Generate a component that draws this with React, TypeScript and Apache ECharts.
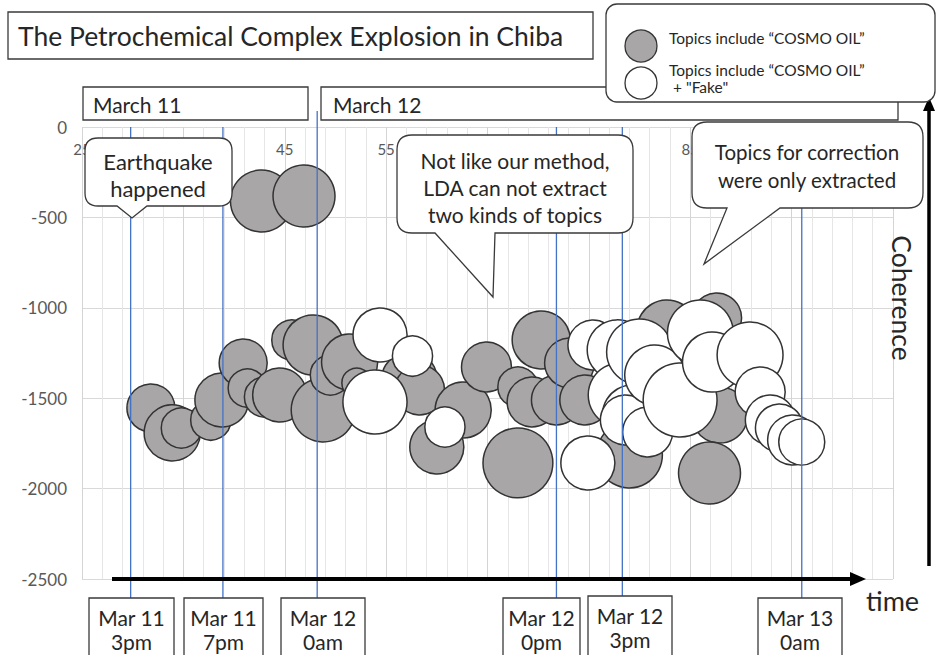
import React, { useEffect, useRef } from "react";
import * as echarts from "echarts";

// ---------- data ----------
// x tick labels that are not hidden by the callouts
const xTickLabels = [25, 45, 55, 85];
const yTickLabels = [0, -500, -1000, -1500, -2000, -2500];

// Topics include "COSMO OIL"
const grayX = [31.8, 33.9, 34.8, 37.7, 38.8, 40.9, 41.3, 43.0, 44.5, 45.7, 47.8, 48.8, 49.5, 51.4, 52.1, 57.3, 58.3, 60.0, 62.6, 64.9, 68.0, 70.3, 69.4, 71.8, 68.0, 73.1, 74.6, 79.0, 82.7, 87.6, 87.9, 86.9, 42.7, 46.9];
const grayY = [-1554, -1692, -1665, -1621, -1510, -1305, -1444, -1493, -1482, -1178, -1206, -1565, -1372, -1300, -1416, -1399, -1455, -1770, -1565, -1327, -1438, -1178, -1521, -1510, -1858, -1305, -1510, -1814, -1123, -1056, -1593, -1914, -409, -382];
const graySize = [0.6, 0.82, 0.42, 0.42, 0.76, 0.6, 0.38, 0.42, 0.76, 0.42, 0.94, 1.07, 0.42, 0.82, 0.23, 0.82, 0.65, 0.76, 0.82, 0.65, 0.42, 0.88, 0.65, 0.65, 1.27, 0.65, 0.65, 1.13, 0.94, 0.65, 0.82, 1.0, 1.0, 1.0];

// Topics include "COSMO OIL" + "Fake"
const whiteX = [54.4, 57.6, 53.9, 60.8, 74.9, 75.4, 77.8, 78.1, 79.3, 78.6, 80.0, 80.8, 81.5, 84.0, 86.0, 87.2, 90.9, 91.9, 92.9, 93.8, 95.1, 96.0];
const whiteY = [-1150, -1267, -1521, -1659, -1858, -1206, -1233, -1482, -1593, -1621, -1244, -1687, -1372, -1510, -1139, -1300, -1261, -1466, -1621, -1665, -1731, -1742];
const whiteSize = [0.76, 0.42, 1.07, 0.42, 0.76, 0.65, 0.94, 1.07, 0.94, 0.65, 1.13, 0.65, 0.94, 1.42, 1.13, 0.94, 1.13, 0.65, 0.65, 0.6, 0.65, 0.55];

// time markers (x position on the axis) and their labels
const markerX = [29.8, 38.9, 48.2, 71.8, 78.3, 96.0];
const markerDay = ["Mar 11", "Mar 11", "Mar 12", "Mar 12", "Mar 12", "Mar 13"];
const markerHour = ["3pm", "7pm", "0am", "0pm", "3pm", "0am"];

const seriesNames = ["Topics include \u201cCOSMO OIL\u201d", "Topics include \u201cCOSMO OIL\u201d"];

// ---------- helpers ----------
const FONT = "Lato, 'Open Sans', sans-serif";

function calloutPath(x: number, y: number, w: number, h: number, r: number, b1: number, tip: [number, number], b2: number) {
  return `M${x + r},${y} L${x + w - r},${y} Q${x + w},${y} ${x + w},${y + r} L${x + w},${y + h - r} Q${x + w},${y + h} ${x + w - r},${y + h} L${b2},${y + h} L${tip[0]},${tip[1]} L${b1},${y + h} L${x + r},${y + h} Q${x},${y + h} ${x},${y + h - r} L${x},${y + r} Q${x},${y} ${x + r},${y} Z`;
}

const callouts = [
  { name: "callout1", d: calloutPath(85, 138, 147, 68, 13, 117, [132, 218], 147) },
  { name: "callout2", d: calloutPath(397, 135, 236, 98, 15, 435, [493, 297], 495) },
  { name: "callout3", d: calloutPath(692, 122, 231, 86, 15, 727, [704, 264], 780) },
];
callouts.forEach((c) => {
  echarts.graphic.registerShape(c.name, echarts.graphic.extendPath(c.d, {}));
});

const bubbleDiameter = (s: number) => 62 * Math.sqrt(s);

function txt(text: string, x: number, y: number, size: number, align = "left", extra: any = {}) {
  return {
    type: "text",
    z: 110,
    x,
    y,
    ...extra,
    style: {
      text,
      fill: "#262626",
      fontSize: size,
      fontFamily: FONT,
      textAlign: align,
      textVerticalAlign: "middle",
    },
  };
}

function box(x: number, y: number, w: number, h: number, r = 0, z = 100) {
  return {
    type: "rect",
    z,
    shape: { x, y, width: w, height: h, r },
    style: { fill: "#fff", stroke: "#3a3a3a", lineWidth: 1.3 },
  };
}

export default function App() {
  const ref = useRef<HTMLDivElement>(null);

  useEffect(() => {
    if (!ref.current) return;
    const chart = echarts.init(ref.current, null, { renderer: "svg" });

    const major = "#d4d4d4";
    const minor = "#e6e6e6";
    const none = "rgba(0,0,0,0)";

    const option: any = {
      animation: false,
      backgroundColor: "#ffffff",
      grid: { left: 82, right: 44, top: 127, bottom: 76, containLabel: false },
      xAxis: {
        type: "value",
        position: "top",
        min: 25,
        max: 105,
        interval: 1,
        axisLine: { show: false },
        axisTick: { show: false },
        axisLabel: {
          inside: true,
          margin: 14,
          color: "#595959",
          fontSize: 15,
          fontFamily: FONT,
          formatter: (v: number) => (xTickLabels.includes(Math.round(v)) ? String(Math.round(v)) : ""),
        },
        splitLine: {
          show: true,
          lineStyle: { color: [major, none, minor, none, minor, none, minor, none, minor, none], width: 1 },
        },
      },
      yAxis: {
        type: "value",
        min: yTickLabels[yTickLabels.length - 1],
        max: yTickLabels[0],
        interval: 500,
        axisLine: { show: false },
        axisTick: { show: false },
        axisLabel: {
          margin: 15,
          color: "#595959",
          fontSize: 17,
          fontFamily: FONT,
          formatter: (v: number) => String(v),
        },
        splitLine: { lineStyle: { color: "#d9d9d9", width: 1 } },
      },
      series: [
        {
          name: seriesNames[0],
          type: "scatter",
          z: 2,
          data: grayX.map((x, i) => [x, grayY[i], graySize[i]]),
          symbolSize: (v: number[]) => bubbleDiameter(v[2]),
          itemStyle: { color: "#a8a6a6", borderColor: "#333", borderWidth: 1.5, opacity: 1 },
        },
        {
          name: seriesNames[1],
          type: "scatter",
          z: 3,
          data: whiteX.map((x, i) => [x, whiteY[i], whiteSize[i]]),
          symbolSize: (v: number[]) => bubbleDiameter(v[2]),
          itemStyle: { color: "#ffffff", borderColor: "#333", borderWidth: 1.5, opacity: 1 },
        },
      ],
    };
    chart.setOption(option);

    const topY = chart.convertToPixel({ yAxisIndex: 0 }, 0) as number;
    const markerTops = [topY, topY, 111, topY, topY, topY];
    const markerLines = markerX.map((mx, i) => {
      const px = chart.convertToPixel({ xAxisIndex: 0 }, mx) as number;
      return {
        type: "line",
        z: 90,
        shape: { x1: px, y1: markerTops[i], x2: px, y2: 598 },
        style: { stroke: "#4472c4", lineWidth: 1.3 },
      };
    });

    const dateBoxes = [
      [89, 598, 85],
      [184, 598, 79],
      [281, 598, 84],
      [503, 598, 77],
      [588, 596, 84],
      [758, 598, 84],
    ];
    const dateElems: any[] = [];
    dateBoxes.forEach((b, i) => {
      dateElems.push(box(b[0], b[1], b[2], 70, 0, 100));
      const cx = b[0] + b[2] / 2;
      dateElems.push(txt(markerDay[i], cx, b[1] + 19, 21, "center"));
      dateElems.push(txt(markerHour[i], cx, b[1] + 43, 21, "center"));
    });

    const calloutElems: any[] = callouts.map((c) => ({
      type: c.name,
      z: 105,
      x: 0,
      y: 0,
      style: { fill: "#fff", stroke: "#3a3a3a", lineWidth: 1.3 },
    }));

    const graphic: any[] = [
      // title
      box(8, 12, 585, 47, 0, 100),
      txt("The Petrochemical Complex Explosion in Chiba", 18, 36, 26.5),
      // day boxes
      box(83, 87, 225, 33, 0, 100),
      txt("March 11", 93, 104, 21),
      box(321, 87, 577, 33, 0, 100),
      txt("March 12", 333, 104, 21),
      // legend
      box(606, 4, 329, 98, 11, 106),
      {
        type: "circle",
        z: 110,
        shape: { cx: 641, cy: 46, r: 16 },
        style: { fill: "#a8a6a6", stroke: "#333", lineWidth: 1.3 },
      },
      {
        type: "circle",
        z: 110,
        shape: { cx: 641, cy: 83, r: 16 },
        style: { fill: "#fff", stroke: "#333", lineWidth: 1.3 },
      },
      txt(seriesNames[0], 669, 38, 15.5),
      txt(seriesNames[1], 669, 70, 15.5),
      txt('+ "Fake"', 673, 87, 15.5),
      ...markerLines,
      ...calloutElems,
      txt("Earthquake", 158, 161, 22, "center"),
      txt("happened", 158, 188, 22, "center"),
      txt("Not like our method,", 515, 160, 21, "center"),
      txt("LDA can not extract", 515, 187, 21, "center"),
      txt("two kinds of topics", 515, 214, 21, "center"),
      txt("Topics for correction", 807, 152, 20.5, "center"),
      txt("were only extracted", 807, 180, 20.5, "center"),
      ...dateElems,
      // axes arrows
      {
        type: "line",
        z: 95,
        shape: { x1: 112, y1: 579, x2: 852, y2: 579 },
        style: { stroke: "#000", lineWidth: 4 },
      },
      {
        type: "polygon",
        z: 95,
        shape: { points: [[866, 579], [850, 572], [850, 586]] },
        style: { fill: "#000" },
      },
      {
        type: "line",
        z: 95,
        shape: { x1: 929, y1: 566, x2: 929, y2: 110 },
        style: { stroke: "#000", lineWidth: 3.5 },
      },
      {
        type: "polygon",
        z: 95,
        shape: { points: [[929, 97], [923, 111], [935, 111]] },
        style: { fill: "#000" },
      },
      txt("time", 866, 600, 27),
      txt("Coherence", 902, 298, 26.5, "center", { rotation: -Math.PI / 2 }),
    ];

    chart.setOption({ graphic });

    return () => {
      chart.dispose();
    };
  }, []);

  return (
    <div
      ref={ref}
      style={{ position: "absolute", left: 0, top: 0, width: 937, height: 655, background: "#fff" }}
    />
  );
}
